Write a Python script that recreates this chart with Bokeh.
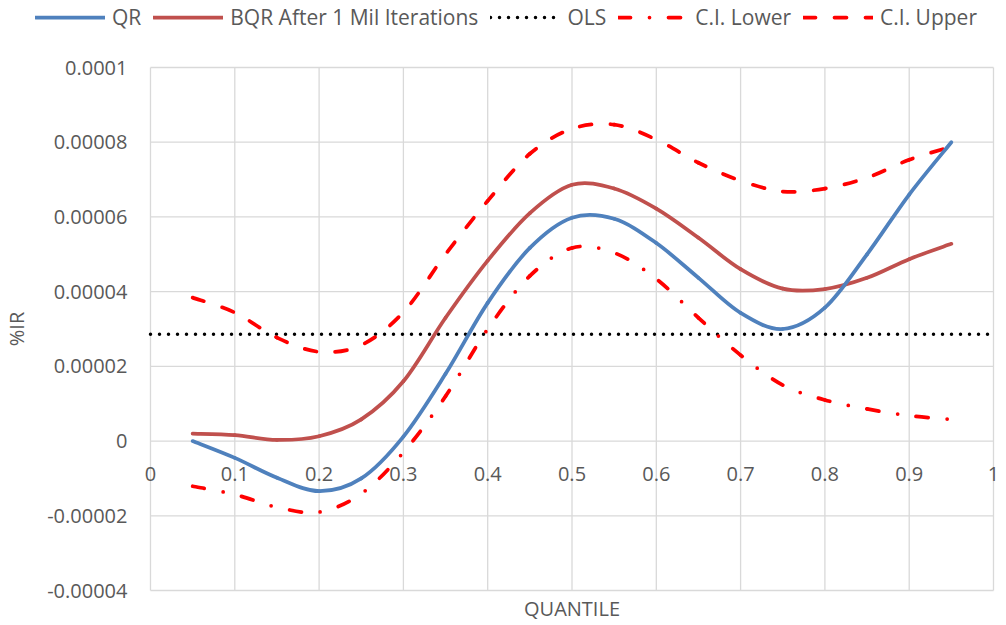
import math
from bokeh.plotting import figure
from bokeh.models import (Legend, LegendItem, Range1d, ColumnDataSource,
                          LabelSet, Label)
from bokeh.core.properties import value
from bokeh.embed import file_html
from bokeh.resources import INLINE

# Quantile regression estimates (values in units of 1e-5)
quantiles = [0.05, 0.10, 0.15, 0.20, 0.25, 0.30, 0.35, 0.40, 0.45, 0.50,
             0.55, 0.60, 0.65, 0.70, 0.75, 0.80, 0.85, 0.90, 0.95]
qr = [0.00, -0.45, -0.98, -1.34, -1.00, 0.12, 1.80, 3.70, 5.17, 5.98,
      5.95, 5.30, 4.37, 3.43, 3.00, 3.57, 5.00, 6.60, 8.00]
bqr = [0.20, 0.16, 0.03, 0.13, 0.58, 1.60, 3.30, 4.83, 6.10, 6.86,
       6.76, 6.22, 5.44, 4.60, 4.08, 4.07, 4.37, 4.87, 5.28]
ci_lower = [-1.21, -1.43, -1.77, -1.90, -1.41, -0.30, 1.20, 3.00, 4.42, 5.17,
            5.04, 4.34, 3.30, 2.30, 1.50, 1.10, 0.86, 0.68, 0.58]
ci_upper = [3.84, 3.44, 2.77, 2.39, 2.57, 3.45, 5.00, 6.43, 7.69, 8.36,
            8.47, 8.07, 7.45, 6.97, 6.68, 6.76, 7.05, 7.53, 7.88]
ols = 2.86
unit = 1e-5

x_ticks = [0.0, 0.1, 0.2, 0.3, 0.4, 0.5, 0.6, 0.7, 0.8, 0.9, 1.0]
x_tick_labels = ["0", "0.1", "0.2", "0.3", "0.4", "0.5", "0.6", "0.7", "0.8", "0.9", "1"]
y_ticks = [-4e-5, -2e-5, 0.0, 2e-5, 4e-5, 6e-5, 8e-5, 1e-4]
y_tick_labels = ["-0.00004", "-0.00002", "0", "0.00002", "0.00004",
                 "0.00006", "0.00008", "0.0001"]

FONT = "Open Sans"
TEXT = "#595959"
GRID = "#d9d9d9"

# canvas and plot-area box in pixels; the frame covers the whole canvas so
# that every label lives inside it
W, H = 1006, 625
PL, PR, PT, PB = 150, 993, 67, 590
px_x = (PR - PL) / (x_ticks[-1] - x_ticks[0])
px_y = (PB - PT) / (y_ticks[-1] - y_ticks[0])
x_lo = x_ticks[0] - PL / px_x
x_hi = x_ticks[-1] + (W - PR) / px_x
y_hi = y_ticks[-1] + PT / px_y
y_lo = y_ticks[0] - (H - PB) / px_y

p = figure(width=W, height=H,
           x_range=Range1d(x_lo, x_hi), y_range=Range1d(y_lo, y_hi),
           output_backend="svg", toolbar_location=None,
           x_axis_location=None, y_axis_location=None,
           min_border=0, min_border_left=0, min_border_right=0,
           min_border_top=0, min_border_bottom=0)
p.title = None
p.background_fill_color = "white"
p.border_fill_color = "white"
p.outline_line_color = None
p.xgrid.visible = False
p.ygrid.visible = False

# grid box over the tick positions
p.segment(x0=x_ticks, x1=x_ticks, y0=[y_ticks[0]] * len(x_ticks),
          y1=[y_ticks[-1]] * len(x_ticks), line_color=GRID, line_width=1.3)
p.segment(x0=[x_ticks[0]] * len(y_ticks), x1=[x_ticks[-1]] * len(y_ticks),
          y0=y_ticks, y1=y_ticks, line_color=GRID, line_width=1.3)

# tick labels: y on the left edge, x hanging under the zero line
ylab = ColumnDataSource(dict(x=[x_ticks[0]] * len(y_ticks), y=y_ticks, t=y_tick_labels))
p.add_layout(LabelSet(x="x", y="y", text="t", source=ylab, x_offset=-23,
                      text_align="right", text_baseline="middle",
                      text_font=value(FONT), text_font_size="20px",
                      text_color=TEXT))
xlab = ColumnDataSource(dict(x=x_ticks, y=[0.0] * len(x_ticks), t=x_tick_labels))
p.add_layout(LabelSet(x="x", y="y", text="t", source=xlab, y_offset=-26,
                      text_align="center", text_baseline="top",
                      text_font=value(FONT), text_font_size="20px",
                      text_color=TEXT))

# axis titles
p.add_layout(Label(x=x_lo, y=(y_ticks[0] + y_ticks[-1]) / 2, x_offset=16,
                   text="%IR", angle=math.pi / 2, text_align="center",
                   text_baseline="middle", text_font=FONT,
                   text_font_size="20px", text_color=TEXT))
p.add_layout(Label(x=(x_ticks[0] + x_ticks[-1]) / 2, y=y_lo, y_offset=17,
                   text="QUANTILE", text_align="center",
                   text_baseline="middle", text_font=FONT,
                   text_font_size="20px", text_color=TEXT))


def smooth_segments(xs, ys, period):
    """Cubic Bezier pieces through the points (Catmull-Rom tangents),
    with dash offsets so a dash pattern runs on across the pieces."""
    n = len(xs)
    d = dict(x0=[], y0=[], x1=[], y1=[], cx0=[], cy0=[], cx1=[], cy1=[], off=[])
    run = 0.0
    for i in range(n - 1):
        a = max(i - 1, 0)
        b = min(i + 2, n - 1)
        c0 = (xs[i] + (xs[i + 1] - xs[a]) / 6, ys[i] + (ys[i + 1] - ys[a]) / 6)
        c1 = (xs[i + 1] - (xs[b] - xs[i]) / 6, ys[i + 1] - (ys[b] - ys[i]) / 6)
        pts = [(xs[i], ys[i]), c0, c1, (xs[i + 1], ys[i + 1])]
        d["x0"].append(xs[i]); d["y0"].append(ys[i])
        d["x1"].append(xs[i + 1]); d["y1"].append(ys[i + 1])
        d["cx0"].append(c0[0]); d["cy0"].append(c0[1])
        d["cx1"].append(c1[0]); d["cy1"].append(c1[1])
        d["off"].append(int(round(run % period)) if period else 0)
        # on-screen length of this piece
        prev = None
        length = 0.0
        for k in range(41):
            t = k / 40
            mt = 1 - t
            bx = (mt ** 3 * pts[0][0] + 3 * mt * mt * t * pts[1][0]
                  + 3 * mt * t * t * pts[2][0] + t ** 3 * pts[3][0]) * px_x
            by = (mt ** 3 * pts[0][1] + 3 * mt * mt * t * pts[1][1]
                  + 3 * mt * t * t * pts[2][1] + t ** 3 * pts[3][1]) * px_y
            if prev is not None:
                length += ((bx - prev[0]) ** 2 + (by - prev[1]) ** 2) ** 0.5
            prev = (bx, by)
        run += length
    return ColumnDataSource(d)


def add_curve(vals, color, dash, period):
    src = smooth_segments(quantiles, [v * unit for v in vals], period)
    return p.bezier(x0="x0", y0="y0", x1="x1", y1="y1", cx0="cx0", cy0="cy0",
                    cx1="cx1", cy1="cy1", source=src, line_color=color,
                    line_width=3.75, line_cap="round", line_dash=dash,
                    line_dash_offset="off")


r_ols = p.line(x=[x_ticks[0], x_ticks[-1]], y=[ols * unit, ols * unit],
               line_color="black", line_width=3.5, line_dash="0 9",
               line_cap="round")
r_hi = add_curve(ci_upper, "#FF0000", "12 19", 31)
r_lo = add_curve(ci_lower, "#FF0000", "12 19 0 19", 50)
r_bqr = add_curve(bqr, "#C0504D", "solid", 0)
r_qr = add_curve(qr, "#4F81BD", "solid", 0)

legend = Legend(items=[
    LegendItem(label="QR", renderers=[r_qr]),
    LegendItem(label="BQR After 1 Mil Iterations", renderers=[r_bqr]),
    LegendItem(label="OLS", renderers=[r_ols]),
    LegendItem(label="C.I. Lower", renderers=[r_lo]),
    LegendItem(label="C.I. Upper", renderers=[r_hi]),
], orientation="horizontal", location=(35, 594),
    glyph_width=70, glyph_height=20, label_standoff=7, spacing=12,
    padding=0, margin=0, border_line_color=None, background_fill_alpha=0,
    label_text_font=FONT, label_text_font_size="21px",
    label_text_color=TEXT, label_height=20)
p.add_layout(legend, "center")

open("out.html", "w").write(file_html(p, INLINE))
